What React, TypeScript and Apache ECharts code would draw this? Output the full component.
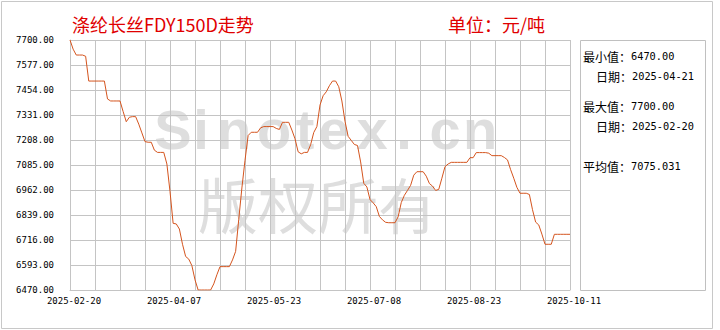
import { useEffect, useRef } from 'react';
import * as echarts from 'echarts';

const TITLE = '涤纶长丝FDY150D走势';
const UNIT = '单位：元/吨';
const DATE_ANCHORS = ['2025-02-20', '2025-04-07', '2025-05-23', '2025-07-08', '2025-08-23', '2025-10-11'];
const STEPS_PER_LABEL = 32;
const Y_MIN = 6470;
const Y_MAX = 7700;
const Y_STEP = 123;

const VALUES = [
  7700, 7655, 7626, 7626, 7626, 7620, 7498, 7498, 7498, 7498,
  7498, 7498, 7410, 7400, 7400, 7400, 7400, 7348, 7298, 7320,
  7323, 7323, 7286, 7243, 7200, 7197, 7197, 7158, 7147, 7147,
  7147, 7090, 6955, 6798, 6795, 6770, 6695, 6635, 6622, 6590,
  6520, 6470, 6470, 6470, 6470, 6470, 6500, 6545, 6585, 6585,
  6585, 6585, 6618, 6660, 6818, 6972, 7108, 7230, 7246, 7246,
  7246, 7268, 7274, 7274, 7274, 7274, 7265, 7260, 7295, 7295,
  7295, 7257, 7214, 7150, 7140, 7147, 7147, 7185, 7245, 7274,
  7380, 7426, 7445, 7475, 7498, 7498, 7470, 7400, 7300, 7226,
  7206, 7186, 7181, 7100, 6995, 6977, 6915, 6899, 6880, 6832,
  6815, 6803, 6801, 6801, 6801, 6830, 6900, 6936, 6960, 6985,
  7035, 7052, 7052, 7052, 7030, 6994, 6981, 6960, 6965, 7020,
  7077, 7090, 7098, 7098, 7098, 7098, 7098, 7098, 7121, 7121,
  7146, 7146, 7146, 7146, 7143, 7131, 7131, 7131, 7131, 7122,
  7110, 7062, 7020, 6975, 6946, 6946, 6946, 6940, 6865, 6804,
  6790, 6745, 6695, 6695, 6695, 6744, 6744, 6744, 6744, 6744,
  6744,
];

const MIN_DATE = '2025-04-21';
const MAX_DATE = '2025-02-20';
const AVG_TEXT = '7075.031';

const WATERMARK_CHARS = ['S', 'i', 'n', 'o', 't', 'e', 'x', '.', 'c', 'n'];
const WATERMARK_CN = '版权所有';

function buildCategories(): string[] {
  const out: string[] = [];
  const DAY = 86400000;
  for (let k = 0; k < DATE_ANCHORS.length - 1; k++) {
    const a = Date.parse(DATE_ANCHORS[k] + 'T00:00:00Z');
    const b = Date.parse(DATE_ANCHORS[k + 1] + 'T00:00:00Z');
    const days = Math.round((b - a) / DAY);
    for (let j = 0; j < STEPS_PER_LABEL; j++) {
      const d = new Date(a + Math.round((j * days) / STEPS_PER_LABEL) * DAY);
      out.push(d.toISOString().slice(0, 10));
    }
  }
  out.push(DATE_ANCHORS[DATE_ANCHORS.length - 1]);
  return out;
}

const CATEGORIES = buildCategories();

export default function App() {
  const ref = useRef<HTMLDivElement>(null);
  useEffect(() => {
    document.body.style.margin = '0';
    const chart = echarts.init(ref.current as HTMLDivElement, null, { renderer: 'svg' });
    const minV = Math.min(...VALUES);
    const maxV = Math.max(...VALUES);
    const grid = '#c4c4c4';
    const mono = '"DejaVu Sans Mono", monospace';
    const cjk = '"Noto Sans CJK SC", sans-serif';
    const wmColor = 'rgba(200,200,200,0.6)';
    const wmX = [173, 201, 234, 274, 305, 334, 372, 404, 445, 480];
    const panelLabel = (text: string, x: number, y: number) => ({
      type: 'text', x, y,
      style: { text, fill: '#000', fontSize: 12, fontFamily: cjk, textVerticalAlign: 'middle' },
    });
    const panelNum = (text: string, x: number, y: number) => ({
      type: 'text', x, y,
      style: { text, fill: '#000', fontSize: 10.3, fontFamily: mono, textVerticalAlign: 'middle' },
    });
    chart.setOption({
      animation: false,
      backgroundColor: '#ffffff',
      grid: { left: 70, top: 40, width: 500, height: 250, containLabel: false },
      xAxis: {
        type: 'category',
        data: CATEGORIES,
        boundaryGap: false,
        axisLine: { show: true, lineStyle: { color: grid, width: 1 } },
        axisTick: { show: false },
        axisLabel: {
          interval: STEPS_PER_LABEL - 1,
          color: '#000',
          fontFamily: mono,
          fontSize: 9,
          margin: 6,
          padding: [0, 0, 0, 8],
        },
        splitLine: { show: true, interval: STEPS_PER_LABEL / 4 - 1, lineStyle: { color: grid, width: 1 } },
      },
      yAxis: {
        type: 'value',
        min: 0,
        max: Y_MAX - Y_MIN,
        interval: Y_STEP,
        axisLine: { show: true, lineStyle: { color: grid, width: 1 } },
        axisTick: { show: false },
        axisLabel: {
          formatter: (v: number) => (v + Y_MIN).toFixed(2),
          color: '#000',
          fontFamily: mono,
          fontSize: 9,
          margin: 16,
          padding: [0, 0, 6, 0],
        },
        splitLine: { show: true, lineStyle: { color: grid, width: 1 } },
      },
      series: [
        {
          type: 'line',
          data: VALUES.map((v) => v - Y_MIN),
          symbol: 'none',
          smooth: false,
          lineStyle: { color: '#d4541e', width: 1 },
          z: 5,
        },
      ],
      graphic: [
        {
          type: 'rect', z: -20, silent: true,
          shape: { x: 1.5, y: 1.5, width: 711, height: 327 },
          style: { fill: 'none', stroke: '#c8c8c8', lineWidth: 1 },
        },
        ...WATERMARK_CHARS.map((c, i) => ({
          type: 'text', z: -10, silent: true, x: wmX[i], y: 129,
          style: {
            text: c, fill: wmColor, fontSize: 56, fontWeight: 'bold',
            fontFamily: '"Liberation Sans", Arial, sans-serif',
            textAlign: 'center', textVerticalAlign: 'middle',
          },
        })),
        {
          type: 'text', z: -10, silent: true, x: 318, y: 202,
          style: {
            text: WATERMARK_CN, fill: wmColor, fontSize: 60, fontFamily: cjk,
            textAlign: 'center', textVerticalAlign: 'middle',
          },
        },
        {
          type: 'text', x: 72, y: 24,
          style: { text: TITLE, fill: '#e00000', fontSize: 18, fontFamily: cjk, textVerticalAlign: 'middle' },
        },
        {
          type: 'text', x: 448, y: 24,
          style: { text: UNIT, fill: '#e00000', fontSize: 18, fontFamily: cjk, textVerticalAlign: 'middle' },
        },
        {
          type: 'rect',
          shape: { x: 580.5, y: 40.5, width: 125, height: 250 },
          style: { fill: 'none', stroke: '#c0c0c0', lineWidth: 1 },
        },
        panelLabel('最小值：', 583, 56),
        panelNum(minV.toFixed(2), 631, 56),
        panelLabel('日期：', 596, 76),
        panelNum(MIN_DATE, 632, 76),
        panelLabel('最大值：', 583, 106),
        panelNum(maxV.toFixed(2), 631, 106),
        panelLabel('日期：', 596, 126),
        panelNum(MAX_DATE, 632, 126),
        panelLabel('平均值：', 583, 166),
        panelNum(AVG_TEXT, 631, 166),
      ],
    });
    return () => chart.dispose();
  }, []);
  return <div ref={ref} style={{ width: 720, height: 330 }} />;
}
